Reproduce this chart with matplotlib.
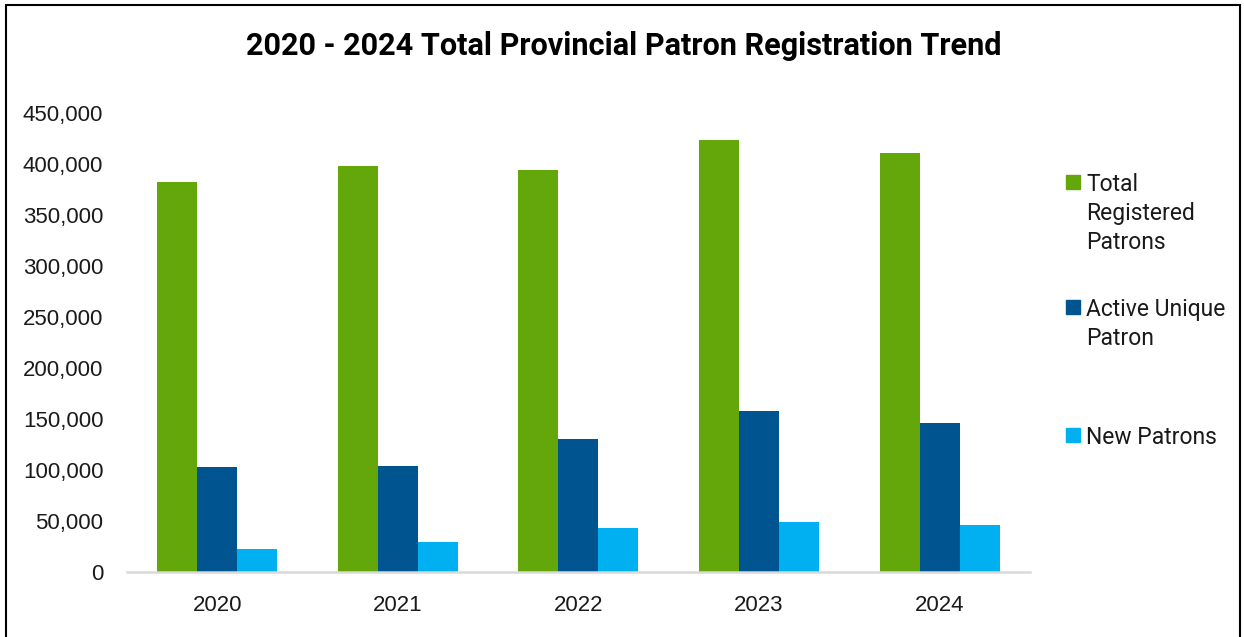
import numpy as np
import matplotlib
matplotlib.use("Agg")
import matplotlib.pyplot as plt
from matplotlib.patches import Rectangle
from matplotlib.ticker import FuncFormatter

years = ["2020", "2021", "2022", "2023", "2024"]
total_registered = [383000, 398000, 394000, 424000, 411000]
active_unique = [103000, 104500, 131000, 158500, 146800]
new_patrons = [23000, 29500, 43800, 49400, 46300]

series_names = ["Total\nRegistered\nPatrons", "Active Unique\nPatron", "New Patrons"]
series_colors = ["#64A70B", "#005590", "#00B0F0"]

fig = plt.figure(figsize=(12.44, 6.37), dpi=100)
ax = fig.add_axes([0.102, 0.1016, 0.726, 0.7204])

x = np.arange(len(years))
w = 0.2215
for i, vals in enumerate([total_registered, active_unique, new_patrons]):
    ax.bar(x + (i - 1) * w, vals, width=w, color=series_colors[i],
           edgecolor="none", zorder=2)

ax.set_xlim(-0.5, len(years) - 0.5)
ax.set_ylim(0, 450000)
ax.set_yticks(np.arange(0, 450001, 50000))
ax.yaxis.set_major_formatter(FuncFormatter(lambda v, p: f"{int(v):,}"))
ax.set_xticks(x)
ax.set_xticklabels(years)

for s in ["top", "right", "left"]:
    ax.spines[s].set_visible(False)
ax.spines["bottom"].set_color("#d9d9d9")
ax.spines["bottom"].set_linewidth(1.8)
ax.tick_params(axis="both", length=0, labelsize=16, colors="#1a1a1a")
ax.tick_params(axis="y", pad=17)
ax.tick_params(axis="x", pad=16)
for lbl in ax.get_xticklabels() + ax.get_yticklabels():
    lbl.set_family("Liberation Sans")

fig.text(0.5015, 0.928, "2020 - 2024 Total Provincial Patron Registration Trend",
         ha="center", va="center", fontsize=22.1, fontweight="bold",
         family="Roboto", color="black")

# legend on the right (marker lined up with first text line)
leg_tops = [0.7284, 0.5322, 0.3312]
for name, col, yt in zip(series_names, series_colors, leg_tops):
    fig.add_artist(Rectangle((1066 / 1244, yt - 0.0251), 14 / 1244, 14 / 637,
                             transform=fig.transFigure, color=col))
    fig.text(1086 / 1244, yt, name, ha="left", va="top", fontsize=16.5,
             family="Roboto", color="#1a1a1a", linespacing=1.34)

# outer chart border
fig.add_artist(Rectangle((6 / 1244, -0.05), 1234 / 1244, 1.05 - 5 / 637,
                         transform=fig.transFigure, fill=False,
                         edgecolor="black", linewidth=1.5))

fig.savefig("out.png", dpi=100)
